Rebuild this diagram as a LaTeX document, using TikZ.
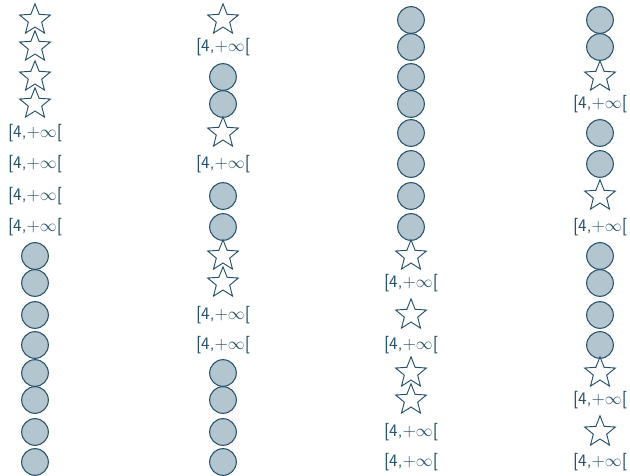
\documentclass[tikz,border=0pt]{standalone}
\usepackage{tikz}
\usetikzlibrary{shapes.geometric}
\definecolor{inkblue}{HTML}{24506A}
\definecolor{dotfill}{HTML}{B3C5CE}

\begin{document}
\begin{tikzpicture}[
        dot/.style={
            circle,
            draw=inkblue,
            fill=dotfill,
            line width=0.9pt,
            minimum size=0.8cm,
            inner sep=0pt
        },
        starmark/.style={
            star,
            star points=5,
            star point ratio=2.3,
            draw=inkblue,
            fill=white,
            line width=0.8pt,
            minimum size=0.97cm,
            inner sep=0pt
        },
        interval/.style={
            text=inkblue,
            font=\sffamily\fontsize{15}{18}\selectfont,
            inner sep=1pt
        }
    ]
        \useasboundingbox (0,0) rectangle (18.9,-14.25);

        % first column
        \node[starmark] (a1) at (1.05,-0.60) {};
        \node[starmark] (a2) at (1.05,-1.41) {};
        \node[starmark] (a3) at (1.05,-2.31) {};
        \node[starmark] (a4) at (1.05,-3.12) {};
        \node[interval] (a5) at (1.05,-3.99) {[4,+$\infty$[};
        \node[interval] (a6) at (1.05,-4.92) {[4,+$\infty$[};
        \node[interval] (a7) at (1.05,-5.88) {[4,+$\infty$[};
        \node[interval] (a8) at (1.05,-6.81) {[4,+$\infty$[};
        \node[dot] (a9) at (1.05,-7.68) {};
        \node[dot] (a10) at (1.05,-8.49) {};
        \node[dot] (a11) at (1.05,-9.45) {};
        \node[dot] (a12) at (1.05,-10.35) {};
        \node[dot] (a13) at (1.05,-11.19) {};
        \node[dot] (a14) at (1.05,-12.00) {};
        \node[dot] (a15) at (1.05,-12.96) {};
        \node[dot] (a16) at (1.05,-13.86) {};

        % second column
        \node[starmark] (b1) at (6.69,-0.60) {};
        \node[interval] (b2) at (6.69,-1.41) {[4,+$\infty$[};
        \node[dot] (b3) at (6.69,-2.31) {};
        \node[dot] (b4) at (6.69,-3.12) {};
        \node[starmark] (b5) at (6.69,-3.99) {};
        \node[interval] (b6) at (6.69,-4.92) {[4,+$\infty$[};
        \node[dot] (b7) at (6.69,-5.88) {};
        \node[dot] (b8) at (6.69,-6.81) {};
        \node[starmark] (b9) at (6.69,-7.68) {};
        \node[starmark] (b10) at (6.69,-8.49) {};
        \node[interval] (b11) at (6.69,-9.45) {[4,+$\infty$[};
        \node[interval] (b12) at (6.69,-10.35) {[4,+$\infty$[};
        \node[dot] (b13) at (6.69,-11.19) {};
        \node[dot] (b14) at (6.69,-12.00) {};
        \node[dot] (b15) at (6.69,-12.96) {};
        \node[dot] (b16) at (6.69,-13.86) {};

        % third column
        \node[dot] (c1) at (12.33,-0.60) {};
        \node[dot] (c2) at (12.33,-1.41) {};
        \node[dot] (c3) at (12.33,-2.31) {};
        \node[dot] (c4) at (12.33,-3.12) {};
        \node[dot] (c5) at (12.33,-3.99) {};
        \node[dot] (c6) at (12.33,-4.92) {};
        \node[dot] (c7) at (12.33,-5.88) {};
        \node[dot] (c8) at (12.33,-6.81) {};
        \node[starmark] (c9) at (12.33,-7.68) {};
        \node[interval] (c10) at (12.33,-8.49) {[4,+$\infty$[};
        \node[starmark] (c11) at (12.33,-9.45) {};
        \node[interval] (c12) at (12.33,-10.35) {[4,+$\infty$[};
        \node[starmark] (c13) at (12.33,-11.19) {};
        \node[starmark] (c14) at (12.33,-12.00) {};
        \node[interval] (c15) at (12.33,-12.96) {[4,+$\infty$[};
        \node[interval] (c16) at (12.33,-13.86) {[4,+$\infty$[};

        % fourth column
        \node[dot] (d1) at (18.00,-0.60) {};
        \node[dot] (d2) at (18.00,-1.41) {};
        \node[starmark] (d3) at (18.00,-2.31) {};
        \node[interval] (d4) at (18.00,-3.12) {[4,+$\infty$[};
        \node[dot] (d5) at (18.00,-3.99) {};
        \node[dot] (d6) at (18.00,-4.92) {};
        \node[starmark] (d7) at (18.00,-5.88) {};
        \node[interval] (d8) at (18.00,-6.81) {[4,+$\infty$[};
        \node[dot] (d9) at (18.00,-7.68) {};
        \node[dot] (d10) at (18.00,-8.49) {};
        \node[dot] (d11) at (18.00,-9.45) {};
        \node[dot] (d12) at (18.00,-10.35) {};
        \node[starmark] (d13) at (18.00,-11.19) {};
        \node[interval] (d14) at (18.00,-12.00) {[4,+$\infty$[};
        \node[starmark] (d15) at (18.00,-12.96) {};
        \node[interval] (d16) at (18.00,-13.86) {[4,+$\infty$[};
    \end{tikzpicture}
\end{document}
